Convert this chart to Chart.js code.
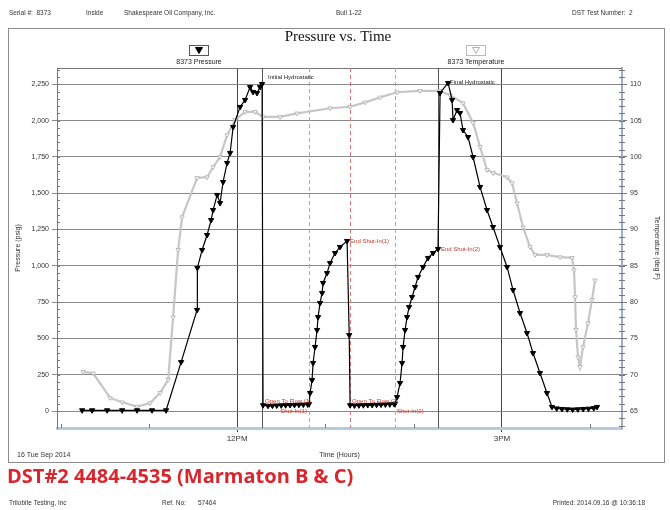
<!DOCTYPE html>
<html>
<head>
<meta charset="utf-8">
<script src="https://cdn.jsdelivr.net/npm/chart.js@4"></script>
<style>
body { margin: 0; background: #fff; }
</style>
</head>
<body>
<canvas id="dstChart" width="670" height="510" style="width:670px;height:510px"></canvas>
<script>
// time in decimal hours of 16 Sep 2014, pressure in psig
var pressTime = [10.245, 10.358, 10.528, 10.698, 10.867, 11.037, 11.196,
    11.366, 11.547, 11.55, 11.604, 11.660, 11.706, 11.728, 11.774, 11.807, 11.841, 11.887, 11.921, 11.955,
    12.034, 12.091, 12.147, 12.181, 12.226, 12.260, 12.283,
    12.294, 12.35, 12.40, 12.45, 12.50, 12.55, 12.60, 12.65, 12.70, 12.75, 12.80,
    12.815, 12.827, 12.849, 12.861, 12.883, 12.906, 12.917, 12.940, 12.963, 12.974, 13.019, 13.053, 13.110, 13.166, 13.246,
    13.27,
    13.28, 13.33, 13.38, 13.43, 13.48, 13.53, 13.58, 13.63, 13.68, 13.73, 13.78,
    13.789, 13.812, 13.846, 13.869, 13.880, 13.903, 13.925, 13.948, 13.982, 14.016, 14.050, 14.106, 14.163, 14.220, 14.276,
    14.299, 14.390, 14.435, 14.446, 14.492, 14.525, 14.559, 14.616, 14.673, 14.752, 14.831, 14.899, 14.978, 15.058,
    15.126, 15.205, 15.284, 15.352, 15.431, 15.510, 15.567, 15.62, 15.68, 15.74, 15.80, 15.86, 15.92, 15.98, 16.04, 16.077];
var pressPsig = [5, 5, 5, 5, 5, 5, 5,
    337, 696, 985, 1109, 1212, 1315, 1384, 1488, 1432, 1577, 1708, 1777, 1956,
    2094, 2142, 2231, 2197, 2190, 2231, 2252,
    40, 36, 37, 38, 39, 40, 41, 42, 43, 44, 45,
    48, 124, 213, 331, 441, 558, 647, 744, 813, 882, 950, 1019, 1088, 1130, 1171,
    523,
    40, 38, 39, 40, 41, 42, 43, 44, 45, 46, 47,
    50, 96, 193, 331, 441, 558, 647, 716, 785, 854, 923, 992, 1054, 1088, 1116,
    2190, 2259, 2142, 2004, 2073, 2052, 1935, 1887, 1749, 1543, 1384, 1267, 1129, 992,
    833, 675, 537, 399, 262, 124, 28, 18, 14, 12, 10, 12, 14, 16, 20, 28];

// temperature in deg F
var tempTime = [10.256, 10.369, 10.562, 10.698, 10.867, 11.015, 11.128, 11.219, 11.275, 11.332, 11.377,
    11.547, 11.660, 11.728, 11.807, 11.887, 11.977, 12.091, 12.204, 12.294, 12.487, 12.680, 13.053, 13.280,
    13.450, 13.619, 13.812, 14.072, 14.299, 14.412, 14.559, 14.673, 14.752, 14.831, 14.899, 15.058, 15.114,
    15.171, 15.239, 15.318, 15.375, 15.510, 15.658, 15.794, 15.817, 15.828, 15.839, 15.862, 15.884, 15.918,
    15.975, 16.020, 16.054];
var tempDegF = [70.4, 70.2, 66.8, 66.2, 65.6, 66.1, 67.5, 69.3, 77.9, 87.2, 91.7,
    97.1, 97.2, 98.6, 100.0, 103.0, 105.1, 106.2, 106.2, 105.5, 105.5, 106.0, 106.7, 106.9,
    107.5, 108.2, 108.9, 109.1, 109.1, 108.5, 107.4, 104.7, 101.4, 98.2, 97.8, 97.2, 96.4,
    93.6, 90.3, 87.6, 86.5, 86.5, 86.2, 86.1, 84.4, 80.7, 76.2, 72.4, 71.1, 73.8,
    77.1, 80.3, 83.0];

var pressTicks = [0, 250, 500, 750, 1000, 1250, 1500, 1750, 2000, 2250];
var tempTicks = [65, 70, 75, 80, 85, 90, 95, 100, 105, 110];
var hourTicks = [12, 15];
var hourLabels = ['12PM', '3PM'];
var minorHours = [10, 11, 13, 14, 16];

var eventNames = ['Initial Hydrostatic', 'Open To Flow (1)', 'Shut-In(1)', 'End Shut-In(1)',
    'Open To Flow (2)', 'Shut-In(2)', 'End Shut-In(2)', 'Final Hydrostatic'];
var eventTime = [12.283, 12.294, 12.815, 13.246, 13.28, 13.789, 14.276, 14.39];
var eventPsig = [2252, 40, 48, 1171, 40, 50, 1116, 2259];
var eventLineTime = [12.283, 12.815, 13.28, 13.789, 14.276];

// label styling for each event (colour, offsets, alignment)
var eventStyle = [
    { color: '#222', dx: 6, dy: -7, align: 'left' },
    { color: '#c0392b', dx: 2, dy: -4, align: 'left' },
    { color: '#c0392b', dx: -2, dy: 7, align: 'right' },
    { color: '#c0392b', dx: 3, dy: 0, align: 'left' },
    { color: '#c0392b', dx: 2, dy: -4, align: 'left' },
    { color: '#c0392b', dx: 2, dy: 8, align: 'left' },
    { color: '#c0392b', dx: 3, dy: 0, align: 'left' },
    { color: '#222', dx: 2, dy: -1, align: 'left' }
];
var lineStyle = [
    { color: '#555', dash: [] },
    { color: '#aaa', dash: [4, 3] },
    { color: '#d77', dash: [4, 3] },
    { color: '#aaa', dash: [4, 3] },
    { color: '#555', dash: [] }
];

function pairs(xs, ys) {
    return xs.map(function (x, i) { return { x: x, y: ys[i] }; });
}

function downTriangle(ctx, x, y, filled, color) {
    ctx.beginPath();
    ctx.moveTo(x - 3.5, y - 3);
    ctx.lineTo(x + 3.5, y - 3);
    ctx.lineTo(x, y + 3);
    ctx.closePath();
    if (filled) { ctx.fillStyle = color; ctx.fill(); }
    ctx.strokeStyle = color; ctx.lineWidth = 1; ctx.stroke();
}

var pagePlugin = {
    id: 'page',
    beforeDraw: function (chart) {
        var ctx = chart.ctx;
        ctx.save();
        ctx.fillStyle = '#fff';
        ctx.fillRect(0, 0, chart.width, chart.height);
        ctx.strokeStyle = '#8c8c8c';
        ctx.lineWidth = 1;
        ctx.strokeRect(8.5, 28.5, 656, 434);
        ctx.restore();
    },
    beforeDatasetsDraw: function (chart) {
        var ctx = chart.ctx, a = chart.chartArea, xs = chart.scales.x;
        ctx.save();
        // top border of plot
        ctx.strokeStyle = '#777';
        ctx.beginPath(); ctx.moveTo(a.left, a.top + 0.5); ctx.lineTo(a.right, a.top + 0.5); ctx.stroke();
        eventLineTime.forEach(function (t, i) {
            var px = Math.round(xs.getPixelForValue(t)) + 0.5;
            ctx.strokeStyle = lineStyle[i].color;
            ctx.setLineDash(lineStyle[i].dash);
            ctx.beginPath(); ctx.moveTo(px, a.top); ctx.lineTo(px, a.bottom); ctx.stroke();
        });
        ctx.setLineDash([]);
        // minor ticks
        var ys = chart.scales.y, ts = chart.scales.y2;
        ctx.strokeStyle = '#777';
        for (var p = 0; p <= 2350; p += 50) {
            var py = Math.round(ys.getPixelForValue(p)) + 0.5;
            ctx.beginPath(); ctx.moveTo(a.left, py); ctx.lineTo(a.left + 3, py); ctx.stroke();
        }
        for (var t = 63; t <= 112; t += 1) {
            var ty = Math.round(ts.getPixelForValue(t)) + 0.5;
            ctx.beginPath(); ctx.moveTo(a.right - 3, ty); ctx.lineTo(a.right + 3, ty); ctx.stroke();
        }
        minorHours.forEach(function (h) {
            var hx = Math.round(xs.getPixelForValue(h)) + 0.5;
            ctx.beginPath(); ctx.moveTo(hx, a.bottom); ctx.lineTo(hx, a.bottom - 4); ctx.stroke();
        });
        ctx.restore();
    },
    afterDraw: function (chart) {
        var ctx = chart.ctx;
        var xs = chart.scales.x, ys = chart.scales.y;
        ctx.save();
        // event labels
        ctx.font = '6px "Liberation Sans"';
        ctx.textBaseline = 'middle';
        eventNames.forEach(function (name, i) {
            var st = eventStyle[i];
            ctx.fillStyle = st.color;
            ctx.textAlign = st.align;
            ctx.fillText(name, xs.getPixelForValue(eventTime[i]) + st.dx, ys.getPixelForValue(eventPsig[i]) + st.dy);
        });

        // header
        ctx.fillStyle = '#333';
        ctx.textAlign = 'left';
        ctx.font = '6.5px "Liberation Sans"';
        ctx.fillText('Serial #:  8373', 9, 13);
        ctx.fillText('Inside', 86, 13);
        ctx.fillText('Shakespeare Oil Company, Inc.', 124, 13);
        ctx.fillText('Bull 1-22', 336, 13);
        ctx.fillText('DST Test Number:  2', 572, 13);

        // title
        ctx.fillStyle = '#111';
        ctx.textAlign = 'center';
        ctx.font = '15px "Liberation Serif"';
        ctx.fillText('Pressure vs. Time', 338, 37);

        // legend boxes
        var legendX = [199, 476];
        chart.data.datasets.forEach(function (ds, i) {
            var cx = legendX[i];
            ctx.fillStyle = '#fff';
            ctx.strokeStyle = i === 0 ? '#555' : '#bbb';
            ctx.lineWidth = 1;
            ctx.strokeRect(cx - 9.5, 45.5, 19, 10);
            downTriangle(ctx, cx, 50.5, i === 0, i === 0 ? '#000' : '#b0b0b0');
            ctx.fillStyle = '#222';
            ctx.font = '7px "Liberation Sans"';
            ctx.textAlign = 'center';
            ctx.fillText(ds.label, cx, 62);
        });

        // footer inside frame
        ctx.textAlign = 'left';
        ctx.fillStyle = '#333';
        ctx.font = '7px "Liberation Sans"';
        ctx.fillText('16 Tue Sep 2014', 17, 455);

        // red caption
        ctx.fillStyle = '#d9262e';
        ctx.font = 'bold 20px "Open Sans"';
        ctx.textBaseline = 'middle';
        ctx.fillText('DST#2 4484-4535 (Marmaton B & C)', 7, 477);

        // page footer
        ctx.fillStyle = '#333';
        ctx.font = '6.5px "Liberation Sans"';
        ctx.fillText('Trilobite Testing, Inc', 9, 503);
        ctx.fillText('Ref. No:', 162, 503);
        ctx.fillText('57464', 198, 503);
        ctx.textAlign = 'right';
        ctx.fillText('Printed: 2014.09.16 @ 10:36:18', 645, 503);
        ctx.restore();
    }
};

var ctx = document.getElementById('dstChart').getContext('2d');
var dstChart = new Chart(ctx, {
    type: 'line',
    data: {
        datasets: [{
            label: '8373 Pressure',
            data: pairs(pressTime, pressPsig),
            yAxisID: 'y',
            order: 0,
            borderColor: '#000',
            borderWidth: 1.2,
            pointStyle: 'triangle',
            pointRotation: 180,
            pointRadius: 3,
            pointBackgroundColor: '#000',
            pointBorderColor: '#000',
            pointBorderWidth: 1,
            tension: 0
        }, {
            label: '8373 Temperature',
            data: pairs(tempTime, tempDegF),
            yAxisID: 'y2',
            order: 1,
            borderColor: '#c6c6c6',
            borderWidth: 2.2,
            pointStyle: 'triangle',
            pointRotation: 180,
            pointRadius: 2.5,
            pointBackgroundColor: '#fff',
            pointBorderColor: '#b8b8b8',
            pointBorderWidth: 1,
            tension: 0
        }]
    },
    options: {
        responsive: false,
        animation: false,
        devicePixelRatio: 1,
        layout: {
            padding: { left: 8, right: 5, top: 68, bottom: 48 }
        },
        plugins: {
            legend: { display: false },
            tooltip: { enabled: false },
            title: { display: false }
        },
        scales: {
            x: {
                type: 'linear',
                min: 9.96,
                max: 16.36,
                afterBuildTicks: function (scale) {
                    scale.ticks = hourTicks.map(function (v) { return { value: v }; });
                },
                afterFit: function (scale) { scale.height = 34; },
                ticks: {
                    autoSkip: false,
                    maxRotation: 0,
                    padding: 2,
                    color: '#333',
                    font: { family: 'Liberation Sans', size: 8 },
                    callback: function (v) { return hourLabels[hourTicks.indexOf(v)]; }
                },
                grid: { color: '#444', lineWidth: 1, tickLength: 4 },
                border: { color: '#b9c9da', width: 3 },
                title: {
                    display: true,
                    text: 'Time (Hours)',
                    color: '#333',
                    font: { family: 'Liberation Sans', size: 7 },
                    padding: { top: 0, bottom: 3 }
                }
            },
            y: {
                position: 'left',
                min: -117,
                max: 2362,
                afterBuildTicks: function (scale) {
                    scale.ticks = pressTicks.map(function (v) { return { value: v }; });
                },
                afterFit: function (scale) { scale.width = 49; },
                ticks: {
                    padding: 3,
                    color: '#333',
                    font: { family: 'Liberation Sans', size: 7 }
                },
                grid: { color: '#8a8a8a', lineWidth: 1, tickLength: 5 },
                border: { color: '#777', width: 1 },
                title: {
                    display: true,
                    text: 'Pressure (psig)',
                    color: '#333',
                    font: { family: 'Liberation Sans', size: 7 },
                    padding: { top: 6, bottom: 0 }
                }
            },
            y2: {
                position: 'right',
                min: 62.66,
                max: 112.24,
                afterBuildTicks: function (scale) {
                    scale.ticks = tempTicks.map(function (v) { return { value: v }; });
                },
                afterFit: function (scale) { scale.width = 43; },
                ticks: {
                    padding: 3,
                    color: '#333',
                    font: { family: 'Liberation Sans', size: 7 }
                },
                grid: { drawOnChartArea: false, color: '#777', tickLength: 5 },
                border: { color: '#9fb0c4', width: 2 },
                title: {
                    display: true,
                    text: 'Temperature (deg F)',
                    color: '#333',
                    font: { family: 'Liberation Sans', size: 7 },
                    padding: { top: 4, bottom: 0 }
                }
            }
        }
    },
    plugins: [pagePlugin]
});
</script>
</body>
</html>
